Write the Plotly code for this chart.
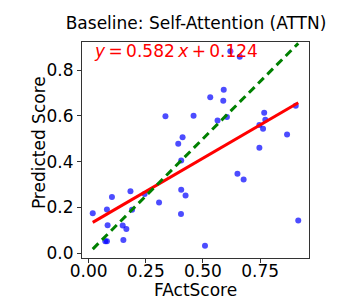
import numpy as np
import plotly.graph_objects as go

fact_score = [0.018, 0.080, 0.083, 0.073, 0.080, 0.102, 0.183, 0.190, 0.149, 0.165,
              0.152, 0.245, 0.308, 0.336, 0.392, 0.411, 0.405, 0.405, 0.424, 0.404,
              0.459, 0.509, 0.532, 0.564, 0.591, 0.589, 0.605, 0.620, 0.661, 0.651,
              0.678, 0.747, 0.747, 0.763, 0.768, 0.773, 0.868, 0.906, 0.917]
predicted = [0.175, 0.191, 0.122, 0.052, 0.052, 0.246, 0.271, 0.190, 0.121, 0.106,
             0.058, 0.259, 0.222, 0.599, 0.478, 0.507, 0.405, 0.277, 0.252, 0.171,
             0.601, 0.032, 0.681, 0.580, 0.714, 0.666, 0.595, 0.883, 0.859, 0.347,
             0.322, 0.560, 0.461, 0.544, 0.614, 0.583, 0.519, 0.644, 0.143]
slope = 0.582
intercept = 0.124
title = "Baseline: Self-Attention (ATTN)"
x_label = "FActScore"
y_label = "Predicted Score"
x_ticks = [0.0, 0.25, 0.5, 0.75]
x_tick_text = ["0.00", "0.25", "0.50", "0.75"]
y_ticks = [0.0, 0.2, 0.4, 0.6, 0.8]
y_tick_text = ["0.0", "0.2", "0.4", "0.6", "0.8"]

xmin, xmax = min(fact_score), max(fact_score)
line_x = [xmin, xmax]

fig = go.Figure()
fig.add_trace(go.Scatter(x=fact_score, y=predicted, mode="markers",
                         marker=dict(color="rgba(0,0,255,0.7)", size=6, line=dict(width=0)),
                         showlegend=False))
fig.add_trace(go.Scatter(x=line_x, y=[slope * v + intercept for v in line_x], mode="lines",
                         line=dict(color="red", width=3), showlegend=False))
fig.add_trace(go.Scatter(x=line_x, y=line_x, mode="lines",
                         line=dict(color="green", width=3, dash="8px,5px"), showlegend=False))

font = "DejaVu Sans"
axis_common = dict(showline=True, mirror=True, linecolor="#333", linewidth=1,
                   ticks="outside", ticklen=4, tickcolor="#333", showgrid=False,
                   zeroline=False, automargin=False,
                   tickfont=dict(family=font, size=17, color="black"))
fig.update_layout(
    width=340, height=300,
    margin=dict(l=74, r=39, t=34, b=50, autoexpand=False),
    paper_bgcolor="white", plot_bgcolor="white",
    title=dict(text=title, x=0.553, xanchor="center", y=0.95, yanchor="middle",
               font=dict(family=font, size=17, color="black")),
    xaxis=dict(range=[-0.029, 0.964], tickvals=x_ticks, ticktext=x_tick_text,
               ticklabelstandoff=-6, **axis_common),
    yaxis=dict(range=[-0.021, 0.923], tickvals=y_ticks, ticktext=y_tick_text, **axis_common),
)
fig.add_annotation(xref="paper", yref="paper", x=0.5, y=-0.148, xanchor="center", yanchor="middle",
                   text=x_label, showarrow=False, font=dict(family=font, size=17, color="black"))
fig.add_annotation(xref="paper", yref="paper", x=-0.19, y=0.536, xanchor="center", yanchor="middle",
                   text=y_label, textangle=-90, showarrow=False,
                   font=dict(family=font, size=17, color="black"))
ts = "\u2009"
fig.add_annotation(xref="paper", yref="paper", x=0.044, y=0.958, xanchor="left", yanchor="middle",
                   text=f"<i>y</i>{ts}={ts}{slope:.3f}{ts}<i>x</i>{ts}+{ts}{intercept:.3f}",
                   showarrow=False, font=dict(family=font, size=17, color="red"))
fig.write_html("out.html")
